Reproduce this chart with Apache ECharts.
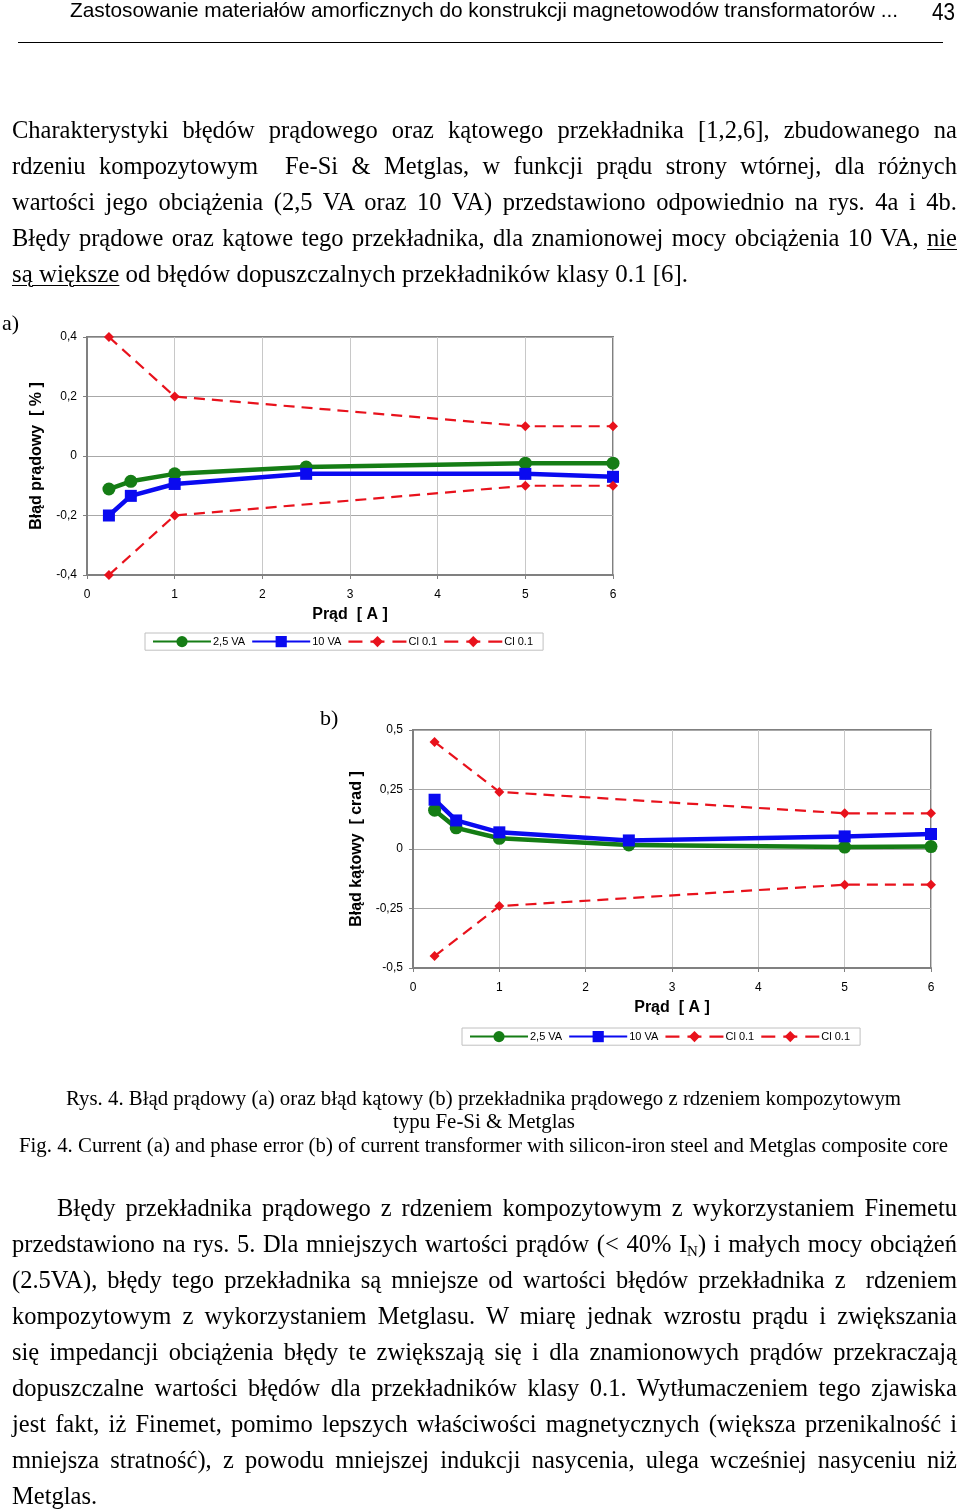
<!DOCTYPE html>
<html><head><meta charset="utf-8">
<script src="https://cdn.jsdelivr.net/npm/echarts@6/dist/echarts.min.js"></script>
<style>
body{margin:0;background:#fff;}
#page{position:relative;width:960px;height:1512px;overflow:hidden;background:#fff;}
#chart{position:absolute;left:0;top:0;width:960px;height:1512px;}
.t{position:absolute;font-family:"Liberation Serif","Times New Roman",serif;font-size:24.5px;line-height:36px;color:#000;}
.j{left:12px;width:945px;text-align:justify;text-align-last:justify;}
.n{white-space:nowrap;}
.fit{white-space:nowrap;transform-origin:0 50%;display:inline-block;}
u{text-decoration-thickness:1px;text-underline-offset:3px;}
sub{font-size:15px;line-height:0;vertical-align:-4px;}
.cap{font-size:20px;line-height:24px;}
.hdr{font-family:"Liberation Sans",Arial,sans-serif;font-size:21px;line-height:24px;}
</style>
</head><body><div id="page">
<div id="chart"></div>

<div class="t hdr fit" style="left:70px;top:-2px" data-w="828">Zastosowanie materiałów amorficznych do konstrukcji magnetowodów transformatorów ...</div>
<div class="t hdr fit" style="left:932px;top:0px;font-size:23px" data-w="23">43</div>
<div style="position:absolute;left:18px;top:42px;width:925px;height:1px;background:#000"></div>

<div class="t j" style="top:112px">Charakterystyki błędów prądowego oraz kątowego przekładnika [1,2,6], zbudowanego na</div>
<div class="t j" style="top:148px">rdzeniu kompozytowym &nbsp;Fe-Si &amp; Metglas, w funkcji prądu strony wtórnej, dla różnych</div>
<div class="t j" style="top:184px">wartości jego obciążenia (2,5 VA oraz 10 VA) przedstawiono odpowiednio na rys. 4a i 4b.</div>
<div class="t j" style="top:220px">Błędy prądowe oraz kątowe tego przekładnika, dla znamionowej mocy obciążenia 10 VA, <u>nie</u></div>
<div class="t n fit" style="left:12px;top:256px" data-w="676"><u>są większe</u> od błędów dopuszczalnych przekładników klasy 0.1 [6].</div>

<div class="t n" style="left:2px;top:305px;font-size:22px">a)</div>
<div class="t n" style="left:320px;top:700px;font-size:22px">b)</div>

<div class="t cap fit" style="left:66px;top:1086px" data-w="835">Rys. 4. Błąd prądowy (a) oraz błąd kątowy (b) przekładnika prądowego z rdzeniem kompozytowym</div>
<div class="t cap fit" style="left:393px;top:1109px" data-w="182">typu Fe-Si &amp; Metglas</div>
<div class="t cap fit" style="left:19px;top:1133px" data-w="929">Fig. 4. Current (a) and phase error (b) of current transformer with silicon-iron steel and Metglas composite core</div>

<div class="t j" style="top:1190px;left:57px;width:900px">Błędy przekładnika prądowego z rdzeniem kompozytowym z wykorzystaniem Finemetu</div>
<div class="t j" style="top:1226px">przedstawiono na rys. 5. Dla mniejszych wartości prądów (&lt; 40% I<sub>N</sub>) i małych mocy obciążeń</div>
<div class="t j" style="top:1262px">(2.5VA), błędy tego przekładnika są mniejsze od wartości błędów przekładnika z &nbsp;rdzeniem</div>
<div class="t j" style="top:1298px">kompozytowym z wykorzystaniem Metglasu. W miarę jednak wzrostu prądu i zwiększania</div>
<div class="t j" style="top:1334px">się impedancji obciążenia błędy te zwiększają się i dla znamionowych prądów przekraczają</div>
<div class="t j" style="top:1370px">dopuszczalne wartości błędów dla przekładników klasy 0.1. Wytłumaczeniem tego zjawiska</div>
<div class="t j" style="top:1406px">jest fakt, iż Finemet, pomimo lepszych właściwości magnetycznych (większa przenikalność i</div>
<div class="t j" style="top:1442px">mniejsza stratność), z powodu mniejszej indukcji nasycenia, ulega wcześniej nasyceniu niż</div>
<div class="t n" style="top:1478px;left:12px">Metglas.</div>
</div>
<script>
// ---- data ----
const currentA = [0.25, 0.5, 1, 2.5, 5, 6];
const classCurrentA = [0.25, 1, 5, 6];
// chart a: current (ratio) error [%]
const ratioErr25VA = [-0.111, -0.085, -0.060, -0.037, -0.024, -0.024];
const ratioErr10VA = [-0.200, -0.134, -0.094, -0.060, -0.060, -0.070];
const ratioLimitUpper = [0.4, 0.2, 0.1, 0.1];
const ratioLimitLower = [-0.4, -0.2, -0.1, -0.1];
// chart b: phase error [crad]
const phaseErr25VA = [0.163, 0.089, 0.045, 0.017, 0.008, 0.010];
const phaseErr10VA = [0.207, 0.120, 0.070, 0.036, 0.053, 0.063];
const phaseLimitUpper = [0.45, 0.24, 0.15, 0.15];
const phaseLimitLower = [-0.45, -0.24, -0.15, -0.15];
const seriesNames = ['2,5 VA', '10 VA', 'Cl 0.1', 'Cl 0.1 '];
const xAxisName = 'Prąd  [ A ]';
const yNameA = 'Błąd prądowy  [ % ]';
const yNameB = 'Błąd kątowy  [ crad ]';

// ---- fit text widths ----
document.querySelectorAll('.fit').forEach(el => {
  const w = +el.dataset.w; const nat = el.getBoundingClientRect().width;
  if (nat > 0) el.style.transform = 'scaleX(' + (w / nat) + ')';
});

const pair = (xs, ys) => xs.map((x, i) => [x, ys[i]]);
const FONT = '"Liberation Sans", Arial, sans-serif';
const GREEN = '#157d15', BLUE = '#0a0af0', RED = '#e8121c';
const fmt = v => String(v).replace('.', ',');

function axes(gi, min, max, interval, yName, yGap) {
  return {
    x: {
      type: 'value', gridIndex: gi, min: 0, max: 6, interval: 1,
      name: xAxisName, nameLocation: 'middle', nameGap: 32,
      nameTextStyle: { fontFamily: FONT, fontSize: 16, fontWeight: 'bold', color: '#000' },
      axisLine: { onZero: false, lineStyle: { color: '#808080', width: 2 } },
      axisTick: { show: true, length: 4, lineStyle: { color: '#808080' } },
      axisLabel: { fontFamily: FONT, fontSize: 12, color: '#000', margin: 14, formatter: fmt },
      splitLine: { show: true, lineStyle: { color: '#c8c8c8', width: 1 } }
    },
    y: {
      type: 'value', gridIndex: gi, min: min, max: max, interval: interval,
      name: yName, nameLocation: 'middle', nameGap: yGap, nameRotate: 90,
      nameTextStyle: { fontFamily: FONT, fontSize: 16, fontWeight: 'bold', color: '#000' },
      axisLine: { show: true, onZero: false, lineStyle: { color: '#808080', width: 2 } },
      axisTick: { show: true, length: 4, lineStyle: { color: '#808080' } },
      axisLabel: { fontFamily: FONT, fontSize: 12, color: '#000', margin: 10, formatter: fmt },
      splitLine: { show: true, lineStyle: { color: '#a8a8a8', width: 1 } }
    }
  };
}
const A = axes(0, -0.4, 0.4, 0.2, yNameA, 42);
const B = axes(1, -0.5, 0.5, 0.25, yNameB, 48);

function seriesFor(gi, g, b, up, lo) {
  const common = { xAxisIndex: gi, yAxisIndex: gi, type: 'line', z: 3, animation: false };
  return [
    Object.assign({}, common, { name: seriesNames[0], data: pair(currentA, g), symbol: 'circle', symbolSize: 13,
      lineStyle: { color: GREEN, width: 4.5 }, itemStyle: { color: GREEN } }),
    Object.assign({}, common, { name: seriesNames[1], data: pair(currentA, b), symbol: 'rect', symbolSize: 12,
      lineStyle: { color: BLUE, width: 4.5 }, itemStyle: { color: BLUE } }),
    Object.assign({}, common, { name: seriesNames[2], data: pair(classCurrentA, up), symbol: 'diamond', symbolSize: 10,
      lineStyle: { color: RED, width: 2.2, type: [11, 7] }, itemStyle: { color: RED } }),
    Object.assign({}, common, { name: seriesNames[3], data: pair(classCurrentA, lo), symbol: 'diamond', symbolSize: 10,
      lineStyle: { color: RED, width: 2.2, type: [11, 7] }, itemStyle: { color: RED } })
  ];
}

function legend(left, top) {
  return {
    data: seriesNames.map((n, i) => i < 2 ? { name: n } :
      { name: n, lineStyle: { type: [14, 8], width: 2.2, color: RED } }),
    left: left, top: top, orient: 'horizontal',
    itemWidth: 58, itemHeight: 14, itemGap: 6, padding: [3, 7],
    borderColor: '#c0c0c0', borderWidth: 1, backgroundColor: '#fff',
    textStyle: { fontFamily: FONT, fontSize: 11, color: '#000', padding: [0, 0, 0, -3] },
    selectedMode: false
  };
}

const chart = echarts.init(document.getElementById('chart'), null, { renderer: 'canvas' });
chart.setOption({
  animation: false,
  grid: [
    { left: 87, top: 337, width: 526, height: 238, show: true, borderColor: '#808080', borderWidth: 2, backgroundColor: 'transparent' },
    { left: 413, top: 730, width: 518, height: 238, show: true, borderColor: '#808080', borderWidth: 2, backgroundColor: 'transparent' }
  ],
  xAxis: [A.x, B.x],
  yAxis: [A.y, B.y],
  legend: [legend(145, 633), legend(462, 1028)],
  series: seriesFor(0, ratioErr25VA, ratioErr10VA, ratioLimitUpper, ratioLimitLower)
    .concat(seriesFor(1, phaseErr25VA, phaseErr10VA, phaseLimitUpper, phaseLimitLower))
});
</script>
</body></html>
